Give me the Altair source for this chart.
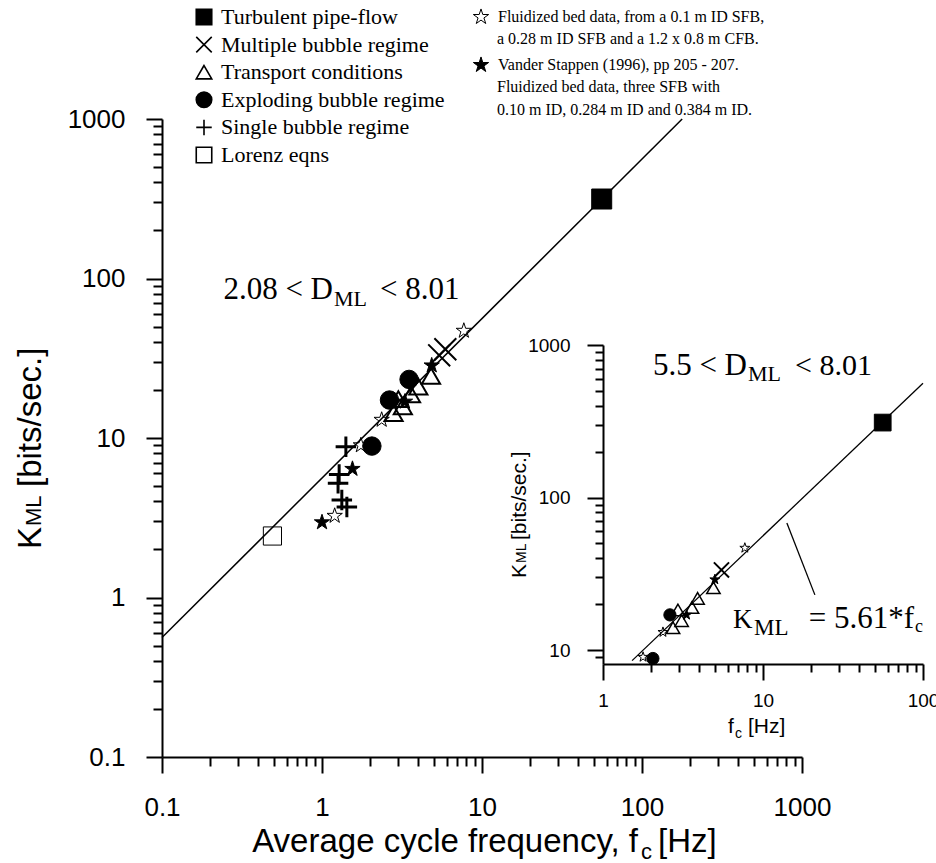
import json
import altair as alt
import pandas as pd

# ------------------------------------------------------------------
# Data
# ------------------------------------------------------------------
regimes = ["Turbulent pipe-flow", "Multiple bubble regime", "Transport conditions",
           "Exploding bubble regime", "Single bubble regime", "Lorenz eqns"]

# main panel, per regime: average cycle frequency f_c [Hz] and K_ML [bits/s]
turb_f, turb_k = [56.0], [315.0]
multi_f, multi_k = [5.4, 5.9], [33.0, 36.0]
trans_f, trans_k = [2.8, 3.0, 3.2, 3.6, 4.0, 4.8], [14.3, 17.5, 15.8, 18.8, 21.0, 24.5]
expl_f, expl_k = [2.05, 2.64, 3.5], [8.9, 17.3, 23.3]
single_f, single_k = [1.41, 1.28, 1.26, 1.33, 1.43], [8.8, 5.9, 5.2, 4.08, 3.69]
lorenz_f, lorenz_k = [0.49], [2.43]

# star series: first legend line of each source, then its continuation lines
sources = ["Fluidized bed data,  from a 0.1 m ID SFB,",
           "Vander Stappen (1996), pp 205 - 207."]
source_more = [["a 0.28 m ID SFB and a 1.2 x 0.8 m CFB."],
               ["Fluidized bed data, three SFB with",
                "0.10 m ID, 0.284 m ID and 0.384 m ID."]]
ostar_f, ostar_k = [1.2, 1.75, 2.36, 7.7], [3.25, 9.0, 13.0, 47.0]
fstar_f, fstar_k = [1.0, 1.55, 3.3, 4.85], [2.96, 6.4, 16.9, 28.5]

# inset panel (5.5 < D_ML < 8.01)
in_turb_f, in_turb_k = [56.0], [310.0]
in_multi_f, in_multi_k = [5.5], [33.5]
in_trans_f, in_trans_k = [2.74, 2.94, 3.1, 3.6, 3.9, 4.9], [14.0, 18.3, 15.6, 19.0, 21.8, 25.6]
in_expl_f, in_expl_k = [2.05, 2.62], [8.8, 17.0]
in_ostar_f, in_ostar_k = [1.78, 2.37, 7.7], [9.0, 13.1, 46.7]
in_fstar_f, in_fstar_k = [3.33, 5.0], [17.0, 29.0]

fit_slope = 5.61                      # K_ML = 5.61 * f_c
main_fit_f = [0.1, 1000.0 / fit_slope]
inset_fit_f = [1.52, 100.0]
leader_f, leader_k = [14.1, 21.1], [68.0, 23.0]

main_ticks = [round(m * 10.0 ** e, 6) for e in range(-1, 3) for m in range(1, 10)] + [1000]
main_majors = [0.1, 1, 10, 100, 1000]
inset_x_ticks = [round(m * 10.0 ** e, 6) for e in range(0, 2) for m in range(1, 10)] + [100]
inset_x_majors = [1, 10, 100]
inset_y_ticks = [9] + [round(m * 10.0 ** e, 6) for e in range(1, 3) for m in range(1, 10)] + [1000]
inset_y_majors = [10, 100, 1000]

# ------------------------------------------------------------------
# Styling
# ------------------------------------------------------------------
SANS = "Liberation Sans"
SERIF = "Liberation Serif"
STAR = ("M0,-1L0.2245,-0.309L0.951,-0.309L0.363,0.118L0.588,0.809L0,0.382"
        "L-0.588,0.809L-0.363,0.118L-0.951,-0.309L-0.2245,-0.309Z")
PLUS = "M-1,0L1,0M0,-1L0,1"
XMARK = "M-1,-1L1,1M-1,1L1,-1"

reg_shapes = ["square", XMARK, "triangle-up", "circle", PLUS, "square"]
reg_fills = ["black", "transparent", "transparent", "black", "transparent", "transparent"]
reg_sizes_main = [400, 480, 330, 340, 420, 330]
reg_widths_main = [1, 2, 2, 1, 3, 1]
reg_sizes_inset = [280, 230, 180, 150, 230, 200]
reg_widths_inset = [1, 2, 1.5, 1, 2, 1]

W, H = 640, 638          # main plot area
ORIGIN_X, ORIGIN_Y = 162, 119

# ------------------------------------------------------------------
# Tables
# ------------------------------------------------------------------
main_series = [(turb_f, turb_k), (multi_f, multi_k), (trans_f, trans_k),
               (expl_f, expl_k), (single_f, single_k), (lorenz_f, lorenz_k)]
main_df = pd.DataFrame([{"regime": r, "f": f, "k": k}
                        for r, (fs, ks) in zip(regimes, main_series) for f, k in zip(fs, ks)])
star_df = pd.DataFrame([{"source": sources[0], "f": f, "k": k} for f, k in zip(ostar_f, ostar_k)] +
                       [{"source": sources[1], "f": f, "k": k} for f, k in zip(fstar_f, fstar_k)])
fit_df = pd.DataFrame({"f": main_fit_f, "k": [fit_slope * f for f in main_fit_f]})

inset_series = [(regimes[0], in_turb_f, in_turb_k), (regimes[1], in_multi_f, in_multi_k),
                (regimes[2], in_trans_f, in_trans_k), (regimes[3], in_expl_f, in_expl_k)]
inset_df = pd.DataFrame([{"regime": r, "f": f, "k": k}
                         for r, fs, ks in inset_series for f, k in zip(fs, ks)])
inset_star_df = pd.DataFrame([{"source": sources[0], "f": f, "k": k} for f, k in zip(in_ostar_f, in_ostar_k)] +
                             [{"source": sources[1], "f": f, "k": k} for f, k in zip(in_fstar_f, in_fstar_k)])
inset_fit_df = pd.DataFrame({"f": inset_fit_f, "k": [fit_slope * f for f in inset_fit_f]})
leader_df = pd.DataFrame({"f": leader_f, "k": leader_k})


def log_axis(values, majors, orient, font_size, major_len, minor_len, offset=0, pad=3):
    test = "indexof(%s, datum.value) >= 0" % json.dumps(majors)
    return alt.Axis(
        values=values, orient=orient, offset=offset, title=None, grid=False,
        labelExpr=f"{test} ? (datum.value < 1 ? format(datum.value, '.1f') : format(datum.value, 'd')) : ''",
        labelFont=SANS, labelFontSize=font_size, labelColor="black", labelPadding=pad,
        labelOverlap=False, labelBound=False, labelFlush=False,
        tickSize={"condition": {"test": test, "value": major_len}, "value": minor_len},
        tickWidth=2, tickColor="black", domainColor="black", domainWidth=2,
    )


def lookup(arr, field="regime", dom=regimes):
    return f"{json.dumps(arr)}[indexof({json.dumps(dom)}, datum.{field})]"


# ------------------------------------------------------------------
# Main panel
# ------------------------------------------------------------------
mx = alt.X("f:Q", scale=alt.Scale(type="log", domain=[0.1, 1000], nice=False),
           axis=log_axis(main_ticks, main_majors, "bottom", 26, 16, 9, pad=21))
my = alt.Y("k:Q", scale=alt.Scale(type="log", domain=[0.1, 1000], nice=False),
           axis=log_axis(main_ticks, main_majors, "left", 26, 16, 9, pad=21))

main_line = alt.Chart(fit_df).mark_line(color="black", strokeWidth=1.5).encode(x=mx, y=my)

reg_legend = alt.Legend(orient="none", legendX=31, legendY=-113, title=None,
                        labelFont=SERIF, labelFontSize=22, labelColor="black", labelLimit=0,
                        labelOffset=6, symbolSize=240, symbolStrokeWidth=1.6,
                        rowPadding=5.6, padding=0)
main_pts = alt.Chart(main_df).transform_calculate(
    sz=lookup(reg_sizes_main), sw=lookup(reg_widths_main)
).mark_point(filled=False, opacity=1).encode(
    x=mx, y=my,
    shape=alt.Shape("regime:N", scale=alt.Scale(domain=regimes, range=reg_shapes), legend=reg_legend),
    fill=alt.Fill("regime:N", scale=alt.Scale(domain=regimes, range=reg_fills), legend=reg_legend),
    stroke=alt.Stroke("regime:N", scale=alt.Scale(domain=regimes, range=["black"] * len(regimes)),
                      legend=reg_legend),
    size=alt.Size("sz:Q", scale=None),
    strokeWidth=alt.StrokeWidth("sw:Q", scale=None),
)

src_legend = alt.Legend(orient="none", legendX=310, legendY=-111, title=None,
                        labelFont=SERIF, labelFontSize=16, labelColor="black", labelLimit=0,
                        labelOffset=8, symbolSize=260, symbolStrokeWidth=1,
                        rowPadding=28, padding=0)
star_pts = alt.Chart(star_df).mark_point(filled=False, strokeWidth=1, size=260, opacity=1).encode(
    x=mx, y=my,
    shape=alt.Shape("source:N", scale=alt.Scale(domain=sources, range=[STAR, STAR]), legend=src_legend),
    fill=alt.Fill("source:N", scale=alt.Scale(domain=sources, range=["transparent", "black"]),
                  legend=src_legend),
    stroke=alt.Stroke("source:N", scale=alt.Scale(domain=sources, range=["black", "black"]),
                      legend=src_legend),
)


def txt(s, x, y, size, font=SERIF, angle=0, align="left", baseline="alphabetic"):
    return alt.Chart(alt.Data(values=[{}])).mark_text(
        text=s, font=font, fontSize=size, angle=angle, align=align, baseline=baseline, color="black"
    ).encode(x=alt.value(x), y=alt.value(y))


# axis titles with subscripts, legend continuation lines, annotations
main_texts = [
    txt("Average cycle frequency, f", 476, 733, 33, SANS, align="right"),
    txt("c", 479, 740, 22, SANS),
    txt("[Hz]", 496, 733, 33, SANS),
    txt("K", -121, 430, 33, SANS, angle=270),
    txt("ML", -121, 407, 22, SANS, angle=270),
    txt("[bits/sec.]", -121, 368, 33, SANS, angle=270),
    txt("2.08 < D", 171, 180, 31, align="right"),
    txt("ML", 172, 187, 22),
    txt("< 8.01", 218, 180, 31),
    txt(source_more[0][0], 335, -75, 16),
    txt(source_more[1][0], 335, -27, 16),
    txt(source_more[1][1], 335, -4, 16),
]

main = alt.layer(main_line, main_pts, star_pts, *main_texts).resolve_scale(
    shape="independent", fill="independent", stroke="independent")

# ------------------------------------------------------------------
# Inset panel (same view, own scales placed by explicit ranges)
# ------------------------------------------------------------------
ix = alt.X("f:Q", scale=alt.Scale(type="log", domain=[1, 100], nice=False, range=[441, 761]),
           axis=log_axis(inset_x_ticks, inset_x_majors, "bottom", 19, 16, 8, offset=-(H - 545), pad=11))
iy = alt.Y("k:Q", scale=alt.Scale(type="log", domain=[8.1, 1000], nice=False, range=[545, 226]),
           axis=log_axis(inset_y_ticks, inset_y_majors, "left", 19, 16, 8, offset=-441, pad=17))

inset_line = alt.Chart(inset_fit_df).mark_line(color="black", strokeWidth=1.3).encode(x=ix, y=iy)
leader = alt.Chart(leader_df).mark_line(color="black", strokeWidth=1.3).encode(x=ix, y=iy)
inset_pts = alt.Chart(inset_df).transform_calculate(
    shp=lookup(reg_shapes), fl=lookup(reg_fills),
    sz=lookup(reg_sizes_inset), sw=lookup(reg_widths_inset)
).mark_point(filled=False, stroke="black", opacity=1).encode(
    x=ix, y=iy,
    shape=alt.Shape("shp:N", scale=None),
    fill=alt.Fill("fl:N", scale=None),
    size=alt.Size("sz:Q", scale=None),
    strokeWidth=alt.StrokeWidth("sw:Q", scale=None),
)
inset_stars = alt.Chart(inset_star_df).transform_calculate(
    fl=lookup(["transparent", "black"], "source", sources)
).mark_point(filled=False, stroke="black", strokeWidth=1, size=110, shape=STAR, opacity=1).encode(
    x=ix, y=iy, fill=alt.Fill("fl:N", scale=None))

inset_texts = [
    txt("f", 566, 614, 21, SANS),
    txt("c", 573, 619, 14, SANS),
    txt("[Hz]", 586, 614, 21, SANS),
    txt("K", 364, 459, 21, SANS, angle=270),
    txt("ML", 364, 444, 14, SANS, angle=270),
    txt("[bits/sec.]", 364, 421, 21, SANS, angle=270),
    txt("5.5 < D", 585, 256, 31, align="right"),
    txt("ML", 586, 262, 22),
    txt("< 8.01", 633, 256, 30),
    txt("K", 571, 509, 27),
    txt("ML", 592, 516, 23),
    txt("= 5.61*f", 752, 509, 31, align="right"),
    txt("c", 753, 513, 18),
]

inset = alt.layer(inset_line, leader, inset_pts, inset_stars, *inset_texts)

chart = alt.layer(main, inset).resolve_scale(x="independent", y="independent").properties(
    width=W, height=H, background="white",
    autosize=alt.AutoSizeParams(type="none"),
    padding={"left": ORIGIN_X, "top": ORIGIN_Y, "right": 936 - ORIGIN_X - W, "bottom": 863 - ORIGIN_Y - H},
).configure_view(strokeWidth=0, stroke="transparent")

chart.save("out.html", embed_options={"renderer": "svg", "actions": False})
